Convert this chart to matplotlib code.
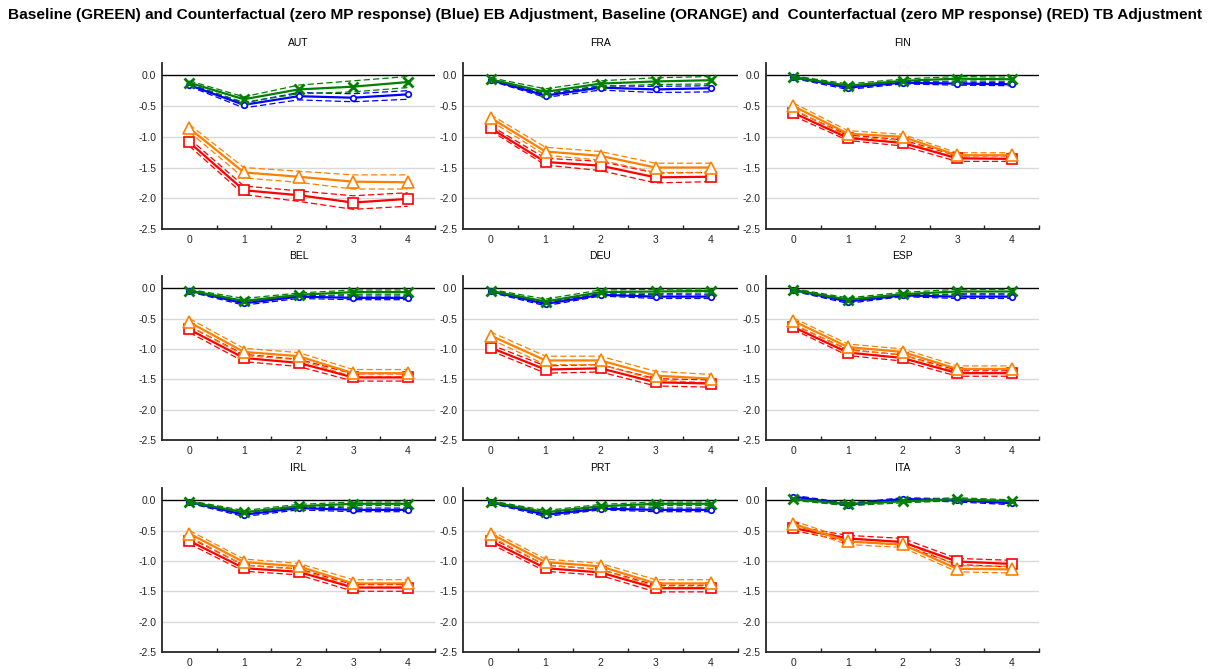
import matplotlib
matplotlib.use("Agg")
import matplotlib.pyplot as plt
from matplotlib.ticker import FixedLocator, NullFormatter

countries = ["AUT", "FRA", "FIN", "BEL", "DEU", "ESP", "IRL", "PRT", "ITA"]
horizons = [0, 1, 2, 3, 4]
y_ticks = [0.0, -0.5, -1.0, -1.5, -2.0, -2.5]
y_tick_labels = ["0.0", "-0.5", "-1.0", "-1.5", "-2.0", "-2.5"]

title_text = ("Baseline (GREEN) and Counterfactual (zero MP response) (Blue) EB Adjustment, "
              "Baseline (ORANGE) and  Counterfactual (zero MP response) (RED) TB Adjustment")

# Baseline EB adjustment (green)
green = {
    "AUT": [-0.12, -0.39, -0.23, -0.185, -0.11],
    "FRA": [-0.065, -0.27, -0.135, -0.10, -0.08],
    "FIN": [-0.03, -0.17, -0.09, -0.055, -0.065],
    "BEL": [-0.04, -0.21, -0.11, -0.065, -0.065],
    "DEU": [-0.045, -0.22, -0.065, -0.055, -0.045],
    "ESP": [-0.03, -0.19, -0.10, -0.055, -0.055],
    "IRL": [-0.03, -0.20, -0.10, -0.06, -0.06],
    "PRT": [-0.03, -0.20, -0.10, -0.06, -0.06],
    "ITA": [0.015, -0.065, -0.02, 0.015, -0.02],
}
green_hi = {
    "AUT": [-0.09, -0.35, -0.16, -0.09, -0.02],
    "FRA": [-0.04, -0.22, -0.09, -0.04, -0.02],
    "FIN": [-0.01, -0.14, -0.06, -0.02, -0.03],
    "BEL": [-0.02, -0.17, -0.08, -0.03, -0.03],
    "DEU": [-0.02, -0.18, -0.03, -0.02, -0.01],
    "ESP": [-0.01, -0.16, -0.07, -0.02, -0.02],
    "IRL": [-0.01, -0.17, -0.07, -0.03, -0.03],
    "PRT": [-0.01, -0.17, -0.07, -0.03, -0.03],
    "ITA": [0.035, -0.04, 0.005, 0.04, 0.005],
}
green_lo = {
    "AUT": [-0.15, -0.44, -0.30, -0.27, -0.20],
    "FRA": [-0.09, -0.31, -0.18, -0.15, -0.14],
    "FIN": [-0.05, -0.20, -0.12, -0.09, -0.10],
    "BEL": [-0.06, -0.24, -0.14, -0.10, -0.10],
    "DEU": [-0.07, -0.25, -0.10, -0.09, -0.08],
    "ESP": [-0.05, -0.22, -0.13, -0.09, -0.09],
    "IRL": [-0.05, -0.23, -0.13, -0.09, -0.09],
    "PRT": [-0.05, -0.23, -0.13, -0.09, -0.09],
    "ITA": [-0.005, -0.09, -0.045, -0.01, -0.045],
}

# Counterfactual EB adjustment (blue)
blue = {
    "AUT": [-0.16, -0.48, -0.34, -0.365, -0.31],
    "FRA": [-0.075, -0.33, -0.20, -0.23, -0.21],
    "FIN": [-0.03, -0.20, -0.12, -0.135, -0.145],
    "BEL": [-0.04, -0.25, -0.14, -0.16, -0.16],
    "DEU": [-0.05, -0.26, -0.11, -0.14, -0.14],
    "ESP": [-0.03, -0.22, -0.12, -0.14, -0.14],
    "IRL": [-0.03, -0.24, -0.13, -0.16, -0.16],
    "PRT": [-0.03, -0.24, -0.14, -0.16, -0.16],
    "ITA": [0.06, -0.075, 0.02, -0.005, -0.05],
}
blue_hi = {
    "AUT": [-0.14, -0.45, -0.28, -0.30, -0.25],
    "FRA": [-0.06, -0.30, -0.17, -0.18, -0.17],
    "FIN": [-0.01, -0.17, -0.10, -0.11, -0.12],
    "BEL": [-0.03, -0.22, -0.12, -0.13, -0.13],
    "DEU": [-0.03, -0.23, -0.09, -0.11, -0.11],
    "ESP": [-0.01, -0.19, -0.10, -0.11, -0.11],
    "IRL": [-0.01, -0.21, -0.11, -0.13, -0.13],
    "PRT": [-0.01, -0.21, -0.12, -0.13, -0.13],
    "ITA": [0.08, -0.05, 0.04, 0.02, -0.025],
}
blue_lo = {
    "AUT": [-0.18, -0.53, -0.40, -0.43, -0.39],
    "FRA": [-0.09, -0.36, -0.24, -0.28, -0.27],
    "FIN": [-0.05, -0.23, -0.14, -0.16, -0.17],
    "BEL": [-0.06, -0.28, -0.17, -0.19, -0.19],
    "DEU": [-0.07, -0.29, -0.13, -0.17, -0.17],
    "ESP": [-0.05, -0.25, -0.14, -0.17, -0.17],
    "IRL": [-0.05, -0.27, -0.16, -0.19, -0.19],
    "PRT": [-0.05, -0.27, -0.16, -0.19, -0.19],
    "ITA": [0.04, -0.10, 0.00, -0.03, -0.075],
}

# Baseline TB adjustment (orange)
orange = {
    "AUT": [-0.86, -1.58, -1.65, -1.73, -1.74],
    "FRA": [-0.69, -1.24, -1.31, -1.50, -1.50],
    "FIN": [-0.50, -0.95, -1.00, -1.30, -1.30],
    "BEL": [-0.56, -1.05, -1.12, -1.40, -1.40],
    "DEU": [-0.78, -1.19, -1.19, -1.44, -1.49],
    "ESP": [-0.54, -0.97, -1.05, -1.33, -1.33],
    "IRL": [-0.55, -1.02, -1.09, -1.37, -1.37],
    "PRT": [-0.55, -1.02, -1.09, -1.37, -1.37],
    "ITA": [-0.39, -0.68, -0.73, -1.13, -1.14],
}
orange_hi = {
    "AUT": [-0.80, -1.50, -1.56, -1.62, -1.62],
    "FRA": [-0.64, -1.17, -1.24, -1.43, -1.43],
    "FIN": [-0.45, -0.90, -0.96, -1.26, -1.26],
    "BEL": [-0.50, -0.99, -1.06, -1.34, -1.34],
    "DEU": [-0.72, -1.12, -1.12, -1.37, -1.42],
    "ESP": [-0.49, -0.92, -1.00, -1.28, -1.28],
    "IRL": [-0.50, -0.97, -1.04, -1.31, -1.31],
    "PRT": [-0.50, -0.97, -1.04, -1.31, -1.31],
    "ITA": [-0.34, -0.64, -0.68, -1.08, -1.09],
}
orange_lo = {
    "AUT": [-0.92, -1.67, -1.74, -1.85, -1.85],
    "FRA": [-0.74, -1.30, -1.38, -1.58, -1.58],
    "FIN": [-0.55, -1.00, -1.06, -1.35, -1.35],
    "BEL": [-0.62, -1.11, -1.18, -1.46, -1.46],
    "DEU": [-0.84, -1.26, -1.26, -1.51, -1.56],
    "ESP": [-0.59, -1.02, -1.10, -1.38, -1.38],
    "IRL": [-0.60, -1.07, -1.14, -1.43, -1.43],
    "PRT": [-0.60, -1.07, -1.14, -1.43, -1.43],
    "ITA": [-0.44, -0.73, -0.78, -1.18, -1.20],
}

# Counterfactual TB adjustment (red)
red = {
    "AUT": [-1.09, -1.87, -1.95, -2.07, -2.01],
    "FRA": [-0.86, -1.41, -1.47, -1.66, -1.65],
    "FIN": [-0.61, -1.02, -1.10, -1.35, -1.36],
    "BEL": [-0.68, -1.15, -1.23, -1.47, -1.47],
    "DEU": [-0.98, -1.34, -1.32, -1.55, -1.57],
    "ESP": [-0.64, -1.06, -1.15, -1.40, -1.40],
    "IRL": [-0.67, -1.12, -1.18, -1.44, -1.44],
    "PRT": [-0.67, -1.12, -1.19, -1.45, -1.45],
    "ITA": [-0.46, -0.63, -0.69, -1.01, -1.05],
}
red_hi = {
    "AUT": [-1.03, -1.80, -1.88, -1.96, -1.91],
    "FRA": [-0.82, -1.35, -1.40, -1.59, -1.58],
    "FIN": [-0.57, -0.97, -1.05, -1.31, -1.31],
    "BEL": [-0.63, -1.09, -1.17, -1.41, -1.41],
    "DEU": [-0.93, -1.28, -1.26, -1.49, -1.51],
    "ESP": [-0.60, -1.01, -1.10, -1.35, -1.35],
    "IRL": [-0.62, -1.07, -1.13, -1.39, -1.39],
    "PRT": [-0.62, -1.07, -1.14, -1.40, -1.40],
    "ITA": [-0.43, -0.58, -0.63, -0.96, -0.99],
}
red_lo = {
    "AUT": [-1.15, -1.94, -2.05, -2.18, -2.13],
    "FRA": [-0.90, -1.46, -1.55, -1.75, -1.73],
    "FIN": [-0.66, -1.06, -1.15, -1.40, -1.40],
    "BEL": [-0.73, -1.21, -1.29, -1.53, -1.53],
    "DEU": [-1.03, -1.40, -1.38, -1.61, -1.63],
    "ESP": [-0.68, -1.11, -1.20, -1.45, -1.45],
    "IRL": [-0.72, -1.17, -1.23, -1.50, -1.50],
    "PRT": [-0.72, -1.17, -1.24, -1.51, -1.51],
    "ITA": [-0.50, -0.68, -0.74, -1.06, -1.10],
}

series = [
    (blue, blue_hi, blue_lo, "#0000ff", "o", 4),
    (green, green_hi, green_lo, "#008000", "x", 6.5),
    (red, red_hi, red_lo, "#ff0000", "s", 7),
    (orange, orange_hi, orange_lo, "#ff8000", "^", 8),
]

plt.rcParams["font.family"] = ["Liberation Sans", "DejaVu Sans"]

fig = plt.figure(figsize=(12.10, 6.69), dpi=100)

col_left = [162 / 1210, 463 / 1210, 766 / 1210]
col_width = [273 / 1210, 275 / 1210, 273 / 1210]
row_top = [63, 276, 488]
row_bottom = [229, 440, 652]

for idx, c in enumerate(countries):
    r, k = divmod(idx, 3)
    left = col_left[k]
    bottom = 1 - row_bottom[r] / 669
    height = (row_bottom[r] - row_top[r]) / 669
    ax = fig.add_axes([left, bottom, col_width[k], height])
    ax.set_xlim(-0.5, 4.5)
    ax.set_ylim(-2.5, 0.2)
    for yv in y_ticks[1:-1]:
        ax.axhline(yv, color="#d9d9d9", lw=1.0, zorder=0)
    ax.axhline(0.0, color="black", lw=1.0, zorder=1)
    for vals, hi, lo, col, mk, ms in series:
        ax.plot(horizons, hi[c], color=col, lw=0.9, ls=(0, (5, 2.5)), zorder=2)
        ax.plot(horizons, lo[c], color=col, lw=0.9, ls=(0, (5, 2.5)), zorder=2)
        if mk == "x":
            ax.plot(horizons, vals[c], color=col, lw=1.6, marker=mk, ms=ms,
                    mew=2.0, zorder=3)
        else:
            ax.plot(horizons, vals[c], color=col, lw=1.6, marker=mk, ms=ms,
                    mfc="white", mec=col, mew=1.2, zorder=3)
    ax.set_title(c, fontsize=7.5, pad=12)
    for side in ["top", "right"]:
        ax.spines[side].set_visible(False)
    for side in ["left", "bottom"]:
        ax.spines[side].set_color("#262626")
        ax.spines[side].set_linewidth(1.3)
    ax.set_yticks(y_ticks)
    ax.set_yticklabels(y_tick_labels)
    ax.tick_params(axis="y", length=0, labelsize=7.5, pad=4, colors="#262626")
    ax.set_xticks(horizons)
    ax.set_xticklabels([str(h) for h in horizons])
    ax.tick_params(axis="x", which="major", length=0, labelsize=7.5, pad=4,
                   colors="#262626")
    ax.xaxis.set_minor_locator(FixedLocator([0.5, 1.5, 2.5, 3.5, 4.5]))
    ax.xaxis.set_minor_formatter(NullFormatter())
    ax.tick_params(axis="x", which="minor", direction="in", length=3,
                   width=1.0, color="#262626")

fig.text(0.5, 1 - 15 / 669, title_text, ha="center", va="center",
         fontsize=11.1, fontweight="bold",
         family=["Liberation Sans", "DejaVu Sans"])

fig.savefig("out.png", dpi=100)
